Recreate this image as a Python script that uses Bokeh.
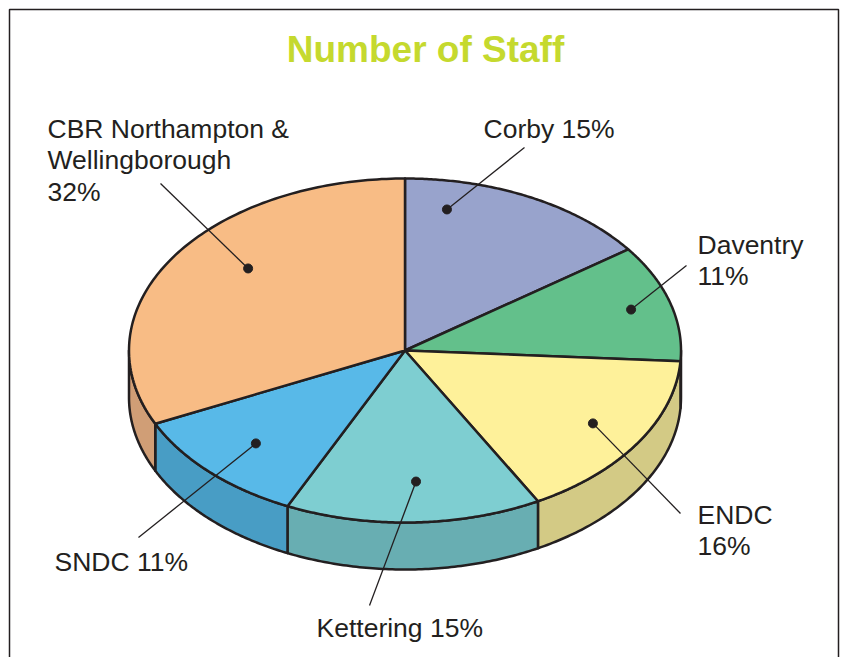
import numpy as np
from bokeh.plotting import figure
from bokeh.models import Range1d
from bokeh.embed import file_html
from bokeh.resources import INLINE
from bokeh.core.properties import value

# ---- data ----
categories = ["Corby", "Daventry", "ENDC", "Kettering", "SNDC",
              "CBR Northampton & Wellingborough"]
shares = [15, 11, 16, 15, 11, 32]
label_lines = [["Corby 15%"], ["Daventry", "11%"], ["ENDC", "16%"],
               ["Kettering 15%"], ["SNDC 11%"],
               ["CBR Northampton &", "Wellingborough", "32%"]]
title_text = "Number of Staff"

# ---- styles ----
top_colors = ["#98A3CC", "#63C08B", "#FEF19A", "#7ECED1", "#58B9E8", "#F8BC85"]
side_colors = ["#7C87B0", "#4FA070", "#D3CA85", "#68AEB2", "#489DC5", "#D09E76"]
INK = "#231F20"

# ---- layout ----
W, H = 847, 657
CX, CY, RX, RY, DEPTH = 404.5, 350.0, 276.0, 172.0, 47.0
# dot anchors (angle clockwise from top in degrees, radius fraction)
dot_polar = [(10.5, 0.834), (73.8, 0.853), (121.9, 0.802),
             (177.0, 0.763), (225.0, 0.764), (310.0, 0.742)]
# leader line outer ends (pixels)
leader_end = [(524, 147), (686, 265), (680, 513), (369, 605), (138, 537), (160, 183)]
# label first-line left x and vertical middle y
label_pos = [(483, 128), (697, 244), (697, 514), (316, 627), (54, 561), (47, 128)]
LINE_GAP = 31.5


def pt(theta_deg, r=1.0, dz=0.0):
    t = np.radians(theta_deg)
    return CX + r * RX * np.sin(t), CY - r * RY * np.cos(t) + dz


total = float(sum(shares))
ends = np.cumsum([s / total * 360.0 for s in shares])
starts = np.concatenate([[0.0], ends[:-1]])

p = figure(width=W, height=H, output_backend="svg", toolbar_location=None,
           x_range=Range1d(0, W), y_range=Range1d(H, 0), min_border=0)
p.axis.visible = False
p.grid.visible = False
p.outline_line_color = None
p.background_fill_color = "white"

# frame
p.line([9, 9, 838, 838], [720, 9, 9, 720], line_color=INK, line_width=1.5)

# side faces
sx, sy, sc = [], [], []
for a0, a1, c in zip(starts, ends, side_colors):
    a = max(a0, 90.0)
    b = min(a1, 270.0)
    if a < b:
        th = np.linspace(a, b, 80)
        xt, yt = pt(th)
        xb, yb = pt(th[::-1], dz=DEPTH)
        sx.append(list(xt) + list(xb))
        sy.append(list(yt) + list(yb))
        sc.append(c)
p.patches(sx, sy, fill_color=sc, line_color=INK, line_width=2.5, line_join="round")

# top faces
tx, ty = [], []
for a0, a1 in zip(starts, ends):
    th = np.linspace(a0, a1, 120)
    xa, ya = pt(th)
    tx.append([CX] + list(xa))
    ty.append([CY] + list(ya))
p.patches(tx, ty, fill_color=top_colors, line_color=INK, line_width=2.5, line_join="round")

# leader lines and dots
dx, dy, lx, ly = [], [], [], []
for (ang, r), (ex, ey) in zip(dot_polar, leader_end):
    x0, y0 = pt(ang, r)
    dx.append(x0)
    dy.append(y0)
    lx.append([x0, ex])
    ly.append([y0, ey])
p.multi_line(lx, ly, line_color=INK, line_width=1.3)
p.scatter(dx, dy, size=9, fill_color=INK, line_color=INK)

# labels
txs, tys, tts = [], [], []
for lines, (x0, y0) in zip(label_lines, label_pos):
    for i, s in enumerate(lines):
        txs.append(x0)
        tys.append(y0 + i * LINE_GAP)
        tts.append(s)
p.text(txs, tys, text=tts, text_font=value("Liberation Sans"), text_font_size="26.5px",
       text_color=INK, text_align="left", text_baseline="middle")

# title
p.text([425], [49], text=[title_text], text_font=value("Liberation Sans"),
       text_font_size="37px", text_font_style="bold", text_color="#C5D92E",
       text_align="center", text_baseline="middle")

open("out.html", "w").write(file_html(p, INLINE))
